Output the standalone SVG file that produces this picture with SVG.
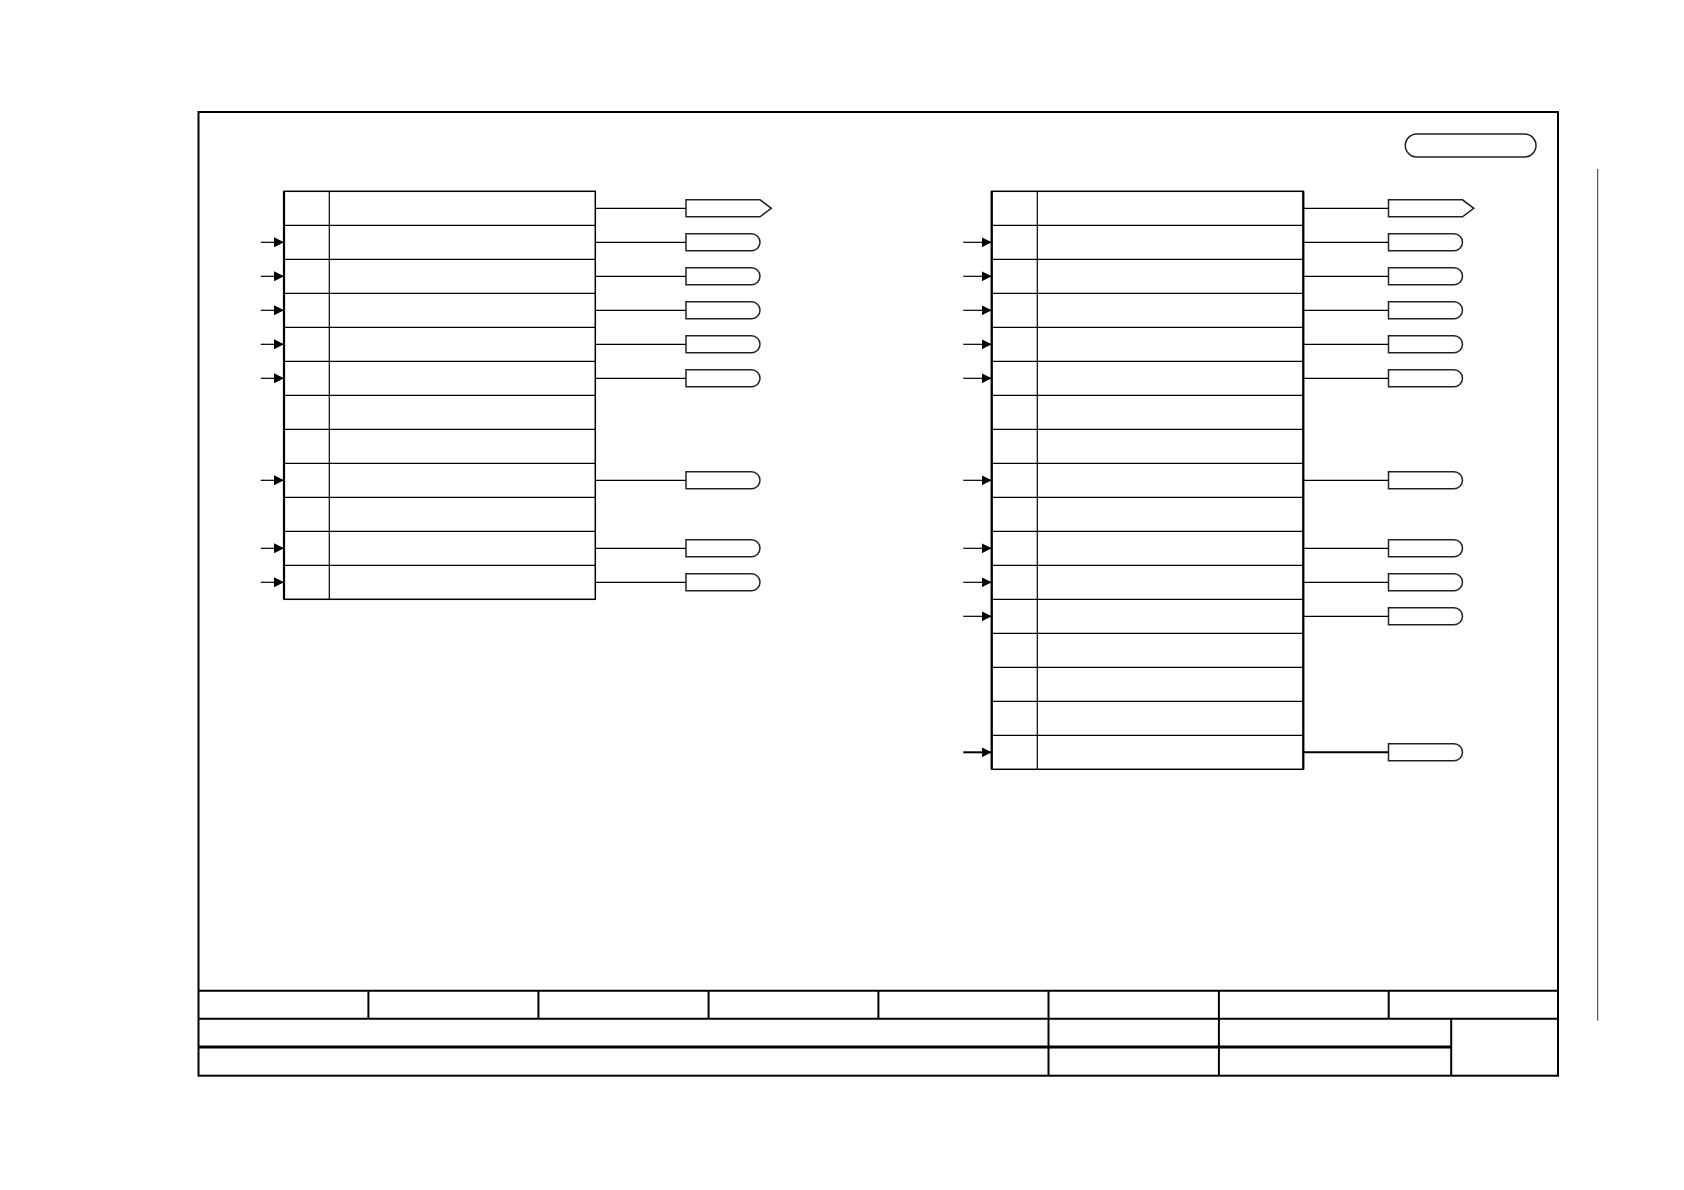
<svg xmlns="http://www.w3.org/2000/svg" xmlns:xlink="http://www.w3.org/1999/xlink" width="1684" height="1190" viewBox="0 0 1684 1190">
<style>
.frame{fill:none;stroke:#000;stroke-width:2}
.tb{fill:none;stroke:#000;stroke-width:2}
.tbthick{fill:none;stroke:#000;stroke-width:3}
.blk{fill:#fff;stroke:#000;stroke-width:1.5}
.blkedge{stroke:#000;stroke-width:2.2}
.cell{stroke:#000;stroke-width:1.2}
.term{fill:#fff;stroke:#222;stroke-width:1.5}
.in{stroke:#000;stroke-width:1.2;marker-end:url(#ah)}
.out{stroke:#000;stroke-width:1.2}
.heavy{stroke-width:2}
.side{stroke:#333;stroke-width:1}
</style>
<defs>
<marker id="ah" viewBox="0 0 10 10" refX="10" refY="5" markerWidth="10" markerHeight="10" markerUnits="userSpaceOnUse" orient="auto">
<path d="M0,0 L10,5 L0,10 Z" fill="#000"/>
</marker>
<path id="tR" d="M0,-8.5 H65.5 A8.5,8.5 0 0 1 65.5,8.5 H0 Z"/>
<path id="tA" d="M0,-8.5 H74 L85.3,0 L74,8.5 H0 Z"/>
</defs>
<rect width="1684" height="1190" fill="#fff"/>

<g id="frame">
<rect class="frame" x="198.5" y="112" width="1359.5" height="963.7"/>
<line class="side" x1="1597.7" y1="169" x2="1597.7" y2="1020.7"/>
</g>

<g id="title-block">
<line class="tb" x1="198.5" y1="990.7" x2="1558" y2="990.7"/>
<line class="tb" x1="198.5" y1="1018.7" x2="1558" y2="1018.7"/>
<line class="tbthick" x1="198.5" y1="1047" x2="1451.2" y2="1047"/>
<line class="tb" x1="368.4" y1="990.7" x2="368.4" y2="1018.7"/>
<line class="tb" x1="538.4" y1="990.7" x2="538.4" y2="1018.7"/>
<line class="tb" x1="708.6" y1="990.7" x2="708.6" y2="1018.7"/>
<line class="tb" x1="878.4" y1="990.7" x2="878.4" y2="1018.7"/>
<line class="tb" x1="1048.5" y1="990.7" x2="1048.5" y2="1075.7"/>
<line class="tb" x1="1218.9" y1="990.7" x2="1218.9" y2="1075.7"/>
<line class="tb" x1="1388.7" y1="990.7" x2="1388.7" y2="1018.7"/>
<line class="tb" x1="1451.2" y1="1018.7" x2="1451.2" y2="1075.7"/>
</g>

<g id="pill">
<rect class="term" x="1405.3" y="134" width="130.7" height="23" rx="11.5" ry="11.5"/>
</g>

<g id="block-left">
<rect class="blk" x="284" y="191.3" width="311.3" height="408"/>
<line class="blkedge" x1="284" y1="191.3" x2="284" y2="599.3"/>
<line class="cell" x1="329.3" y1="191.3" x2="329.3" y2="599.3"/>
<g class="cell">
<line x1="284" y1="225.3" x2="595.3" y2="225.3"/>
<line x1="284" y1="259.3" x2="595.3" y2="259.3"/>
<line x1="284" y1="293.3" x2="595.3" y2="293.3"/>
<line x1="284" y1="327.3" x2="595.3" y2="327.3"/>
<line x1="284" y1="361.3" x2="595.3" y2="361.3"/>
<line x1="284" y1="395.3" x2="595.3" y2="395.3"/>
<line x1="284" y1="429.3" x2="595.3" y2="429.3"/>
<line x1="284" y1="463.3" x2="595.3" y2="463.3"/>
<line x1="284" y1="497.3" x2="595.3" y2="497.3"/>
<line x1="284" y1="531.3" x2="595.3" y2="531.3"/>
<line x1="284" y1="565.3" x2="595.3" y2="565.3"/>
</g>
</g>

<g id="block-right">
<rect class="blk" x="991.7" y="191.3" width="311.6" height="578"/>
<line class="blkedge" x1="991.7" y1="191.3" x2="991.7" y2="769.3"/>
<line class="blkedge" x1="1303.3" y1="191.3" x2="1303.3" y2="769.3"/>
<line class="cell" x1="1037.3" y1="191.3" x2="1037.3" y2="769.3"/>
<g class="cell">
<line x1="991.7" y1="225.3" x2="1303.3" y2="225.3"/>
<line x1="991.7" y1="259.3" x2="1303.3" y2="259.3"/>
<line x1="991.7" y1="293.3" x2="1303.3" y2="293.3"/>
<line x1="991.7" y1="327.3" x2="1303.3" y2="327.3"/>
<line x1="991.7" y1="361.3" x2="1303.3" y2="361.3"/>
<line x1="991.7" y1="395.3" x2="1303.3" y2="395.3"/>
<line x1="991.7" y1="429.3" x2="1303.3" y2="429.3"/>
<line x1="991.7" y1="463.3" x2="1303.3" y2="463.3"/>
<line x1="991.7" y1="497.3" x2="1303.3" y2="497.3"/>
<line x1="991.7" y1="531.3" x2="1303.3" y2="531.3"/>
<line x1="991.7" y1="565.3" x2="1303.3" y2="565.3"/>
<line x1="991.7" y1="599.3" x2="1303.3" y2="599.3"/>
<line x1="991.7" y1="633.3" x2="1303.3" y2="633.3"/>
<line x1="991.7" y1="667.3" x2="1303.3" y2="667.3"/>
<line x1="991.7" y1="701.3" x2="1303.3" y2="701.3"/>
<line x1="991.7" y1="735.3" x2="1303.3" y2="735.3"/>
</g>
</g>

<g id="terminals-left">
<use class="term" href="#tA" x="686" y="208.3"/>
<use class="term" href="#tR" x="686" y="242.3"/>
<use class="term" href="#tR" x="686" y="276.3"/>
<use class="term" href="#tR" x="686" y="310.3"/>
<use class="term" href="#tR" x="686" y="344.3"/>
<use class="term" href="#tR" x="686" y="378.3"/>
<use class="term" href="#tR" x="686" y="480.3"/>
<use class="term" href="#tR" x="686" y="548.3"/>
<use class="term" href="#tR" x="686" y="582.3"/>
</g>

<g id="terminals-right">
<use class="term" href="#tA" x="1388.5" y="208.3"/>
<use class="term" href="#tR" x="1388.5" y="242.3"/>
<use class="term" href="#tR" x="1388.5" y="276.3"/>
<use class="term" href="#tR" x="1388.5" y="310.3"/>
<use class="term" href="#tR" x="1388.5" y="344.3"/>
<use class="term" href="#tR" x="1388.5" y="378.3"/>
<use class="term" href="#tR" x="1388.5" y="480.3"/>
<use class="term" href="#tR" x="1388.5" y="548.3"/>
<use class="term" href="#tR" x="1388.5" y="582.3"/>
<use class="term" href="#tR" x="1388.5" y="616.3"/>
<use class="term" href="#tR" x="1388.5" y="752.3"/>
</g>

<g id="connectors">
<line class="in" x1="260.7" y1="242.3" x2="284" y2="242.3"/>
<line class="in" x1="260.7" y1="276.3" x2="284" y2="276.3"/>
<line class="in" x1="260.7" y1="310.3" x2="284" y2="310.3"/>
<line class="in" x1="260.7" y1="344.3" x2="284" y2="344.3"/>
<line class="in" x1="260.7" y1="378.3" x2="284" y2="378.3"/>
<line class="in" x1="260.7" y1="480.3" x2="284" y2="480.3"/>
<line class="in" x1="260.7" y1="548.3" x2="284" y2="548.3"/>
<line class="in" x1="260.7" y1="582.3" x2="284" y2="582.3"/>

<line class="out" x1="595.3" y1="208.3" x2="686" y2="208.3"/>
<line class="out" x1="595.3" y1="242.3" x2="686" y2="242.3"/>
<line class="out" x1="595.3" y1="276.3" x2="686" y2="276.3"/>
<line class="out" x1="595.3" y1="310.3" x2="686" y2="310.3"/>
<line class="out" x1="595.3" y1="344.3" x2="686" y2="344.3"/>
<line class="out" x1="595.3" y1="378.3" x2="686" y2="378.3"/>
<line class="out" x1="595.3" y1="480.3" x2="686" y2="480.3"/>
<line class="out" x1="595.3" y1="548.3" x2="686" y2="548.3"/>
<line class="out" x1="595.3" y1="582.3" x2="686" y2="582.3"/>

<line class="in" x1="963.3" y1="242.3" x2="991.7" y2="242.3"/>
<line class="in" x1="963.3" y1="276.3" x2="991.7" y2="276.3"/>
<line class="in" x1="963.3" y1="310.3" x2="991.7" y2="310.3"/>
<line class="in" x1="963.3" y1="344.3" x2="991.7" y2="344.3"/>
<line class="in" x1="963.3" y1="378.3" x2="991.7" y2="378.3"/>
<line class="in" x1="963.3" y1="480.3" x2="991.7" y2="480.3"/>
<line class="in" x1="963.3" y1="548.3" x2="991.7" y2="548.3"/>
<line class="in" x1="963.3" y1="582.3" x2="991.7" y2="582.3"/>
<line class="in" x1="963.3" y1="616.3" x2="991.7" y2="616.3"/>
<line class="in heavy" x1="963.3" y1="752.3" x2="991.7" y2="752.3"/>

<line class="out" x1="1303.3" y1="208.3" x2="1388.5" y2="208.3"/>
<line class="out" x1="1303.3" y1="242.3" x2="1388.5" y2="242.3"/>
<line class="out" x1="1303.3" y1="276.3" x2="1388.5" y2="276.3"/>
<line class="out" x1="1303.3" y1="310.3" x2="1388.5" y2="310.3"/>
<line class="out" x1="1303.3" y1="344.3" x2="1388.5" y2="344.3"/>
<line class="out" x1="1303.3" y1="378.3" x2="1388.5" y2="378.3"/>
<line class="out" x1="1303.3" y1="480.3" x2="1388.5" y2="480.3"/>
<line class="out" x1="1303.3" y1="548.3" x2="1388.5" y2="548.3"/>
<line class="out" x1="1303.3" y1="582.3" x2="1388.5" y2="582.3"/>
<line class="out" x1="1303.3" y1="616.3" x2="1388.5" y2="616.3"/>
<line class="out heavy" x1="1303.3" y1="752.3" x2="1388.5" y2="752.3"/>
</g>
</svg>
